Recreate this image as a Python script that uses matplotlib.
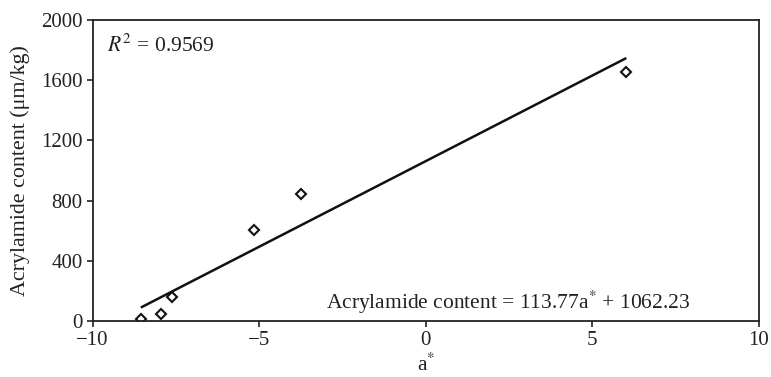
import matplotlib
matplotlib.use("Agg")
import matplotlib.pyplot as plt
import numpy as np

# a* colour value vs acrylamide content
a_star = [-8.55, -7.93, -7.60, -5.14, -3.73, 6.02]
acrylamide = [11, 46, 161, 605, 842, 1652]

slope = 113.77
intercept = 1062.23
r_squared = 0.9569

x_ticks = [-10, -5, 0, 5, 10]
y_ticks = [0, 400, 800, 1200, 1600, 2000]

plt.rcParams['font.family'] = ['Liberation Serif', 'DejaVu Serif']
plt.rcParams['mathtext.fontset'] = 'stix'

fig = plt.figure(figsize=(7.71, 3.77), dpi=100)
ax = fig.add_axes([0.120, 0.1485, 0.8644, 0.7985])

# fitted line over the data range
fit_x = np.array([min(a_star), max(a_star)])
ax.plot(fit_x, slope * fit_x + intercept, color='#111111', lw=1.8, solid_capstyle='butt')
ax.plot(a_star, acrylamide, linestyle='none', marker='D', markersize=5,
        markerfacecolor='white', markeredgecolor='#111111', markeredgewidth=1.5)

ax.set_xlim(-10, 10)
ax.set_ylim(0, 2000)
ax.set_xticks(x_ticks)
ax.set_xticklabels(['\u221210', '\u22125', '0', '5', '10'])
ax.set_yticks(y_ticks)
ax.tick_params(direction='out', length=4, width=1.2, labelsize=15, pad=3,
               colors='#222222')
for s in ax.spines.values():
    s.set_linewidth(1.3)
    s.set_color('#222222')

ax.set_xlabel('a$^{*}$', fontsize=15.5, labelpad=3, color='#222222')
ax.set_ylabel('Acrylamide content (\u03bcm/kg)', fontsize=15.8, labelpad=8, color='#222222')

ax.text(0.022, 0.915, '$R^2$ = %.4f' % r_squared, transform=ax.transAxes,
        fontsize=15.5, ha='left', va='center', color='#222222')
ax.text(0.897, 0.062, 'Acrylamide content = %.2fa$^{*}$ + %.2f' % (slope, intercept),
        transform=ax.transAxes, fontsize=15.5, ha='right', va='center', color='#222222')

fig.savefig('out.png', dpi=100)
